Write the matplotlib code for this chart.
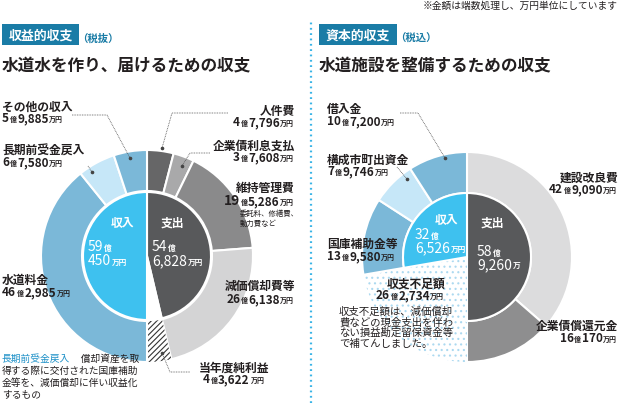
import matplotlib
matplotlib.use("Agg")
import matplotlib.pyplot as plt
from matplotlib.patches import Rectangle

plt.rcParams['font.family'] = ['Noto Sans CJK JP', 'DejaVu Sans']
plt.rcParams['hatch.linewidth'] = 0.8

# ---------------- data (万円) ----------------
left_income_labels = ['水道料金', '長期前受金戻入', 'その他の収入']
left_income_values = [462985, 67580, 59885]
left_expense_labels = ['人件費', '企業債利息支払', '維持管理費', '減価償却費等', '当年度純利益']
left_expense_values = [47796, 37608, 195286, 266138, 43622]
left_income_total = 590450
left_expense_total = 546828

right_income_labels = ['借入金', '構成市町出資金', '国庫補助金等', '収支不足額']
right_income_values = [107200, 79746, 139580, 262734]
right_expense_labels = ['建設改良費', '企業債償還元金']
right_expense_values = [429090, 160170]
right_income_total = 326526
right_expense_total = 589260

# ---------------- colours ----------------
MID_BLUE = '#7bb8d8'
LIGHT_BLUE = '#c6e7f8'
BRIGHT_BLUE = '#3ec1ef'
DARK = '#58595b'
TEAL = '#1a7ca6'
TXT = '#231f20'

fig = plt.figure(figsize=(6.2, 4.03), dpi=100)
ax = fig.add_axes([0, 0, 1, 1])
ax.set_xlim(0, 620)
ax.set_ylim(0, 403)
ax.set_aspect('equal')
ax.axis('off')


def Y(y):
    return 403 - y


renderer = fig.canvas.get_renderer()


def parts(x, y, items, ha='left', gap=0.6):
    objs = []
    for s, size, kw in items:
        t = ax.text(0, Y(y), s, fontsize=size, va='baseline', ha='left', **kw)
        objs.append(t)
    widths = [t.get_window_extent(renderer).width + gap for t in objs]
    total = sum(widths)
    start = x if ha == 'left' else (x - total if ha == 'right' else x - total / 2)
    for t, w in zip(objs, widths):
        t.set_x(start)
        start += w


def amount(x, y, v, ha='left', big=8.5, small=5, color=TXT, unit='万円', big1=None, weight='bold'):
    oku, man = divmod(v, 10000)
    b1 = big1 if big1 else big
    kw = dict(color=color, fontweight=weight)
    parts(x, y, [(f'{oku}', b1, kw), ('億', small, kw), (f'{man:,}', big, kw),
                 (unit, small, kw)], ha=ha)


# ---------------- left donut ----------------
LC = (147, Y(256))
wp = dict(width=41, edgecolor='white', linewidth=1.5)
outer_vals = left_expense_values + left_income_values
outer_cols = ['#666667', '#a9a9aa', '#8a8a8b', '#d4d4d5', 'white', MID_BLUE, LIGHT_BLUE, MID_BLUE]
w_out, _ = ax.pie(outer_vals, colors=outer_cols, center=LC, radius=106, startangle=90,
                  counterclock=False, wedgeprops=wp, frame=True)
h = w_out[4]
h.set_hatch('//////')
h.set_edgecolor('#333333')
h.set_linewidth(0)
inner_vals = [left_expense_total, left_income_total - left_expense_total, left_income_total]
w_in, _ = ax.pie(inner_vals, colors=[DARK, 'white', BRIGHT_BLUE], center=LC, radius=64,
                 startangle=90, counterclock=False,
                 wedgeprops=dict(edgecolor='white', linewidth=1.5), frame=True)

# ---------------- right donut ----------------
RC = (467, Y(257))
r_outer_vals = right_expense_values + right_income_values[::-1]
r_outer_cols = ['#dcdcdd', '#8e8e8f', 'white', MID_BLUE, LIGHT_BLUE, MID_BLUE]
rw_out, _ = ax.pie(r_outer_vals, colors=r_outer_cols, center=RC, radius=105, startangle=90,
                   counterclock=False, wedgeprops=dict(width=41, edgecolor='white', linewidth=1.5),
                   frame=True)
r_inner_vals = [right_expense_total, right_income_values[3], right_income_total]
rw_in, _ = ax.pie(r_inner_vals, colors=[DARK, 'white', BRIGHT_BLUE], center=RC, radius=64,
                  startangle=90, counterclock=False,
                  wedgeprops=dict(edgecolor='white', linewidth=1.5), frame=True)
for w in (rw_out[2], rw_in[1]):
    w.set_hatch('...')
    w.set_edgecolor('#acd9f0')
    w.set_linewidth(0)

ax.set_xlim(0, 620)
ax.set_ylim(0, 403)
ax.axis('off')

# ---------------- divider & headers ----------------
ax.plot([311, 311], [0, Y(20)], color='#3ab4e6', lw=1.6, linestyle=(0, (0.8, 1.6)))
ax.text(618, Y(9), '※金額は端数処理し、万円単位にしています', fontsize=7, ha='right',
        va='baseline', color=TXT)

for bx, bw, title, tax, sub in [(2, 77, '収益的収支', '（税抜）', '水道水を作り、届けるための収支'),
                                (319, 78, '資本的収支', '（税込）', '水道施設を整備するための収支')]:
    ax.add_patch(Rectangle((bx, Y(45)), bw, 21, color=TEAL, lw=0))
    ax.text(bx + bw / 2, Y(40), title, fontsize=9.3, fontweight='bold', color='white',
            ha='center', va='baseline')
    ax.text(bx + bw - 2, Y(42), tax, fontsize=7.5, fontweight='bold', color=TEAL,
            ha='left', va='baseline')
    ax.text(bx, Y(71), sub, fontsize=12, fontweight='bold', color=TXT, ha='left', va='baseline')

# ---------------- left labels ----------------
LB = 8.5
ax.text(2, Y(111), left_income_labels[2], fontsize=LB, fontweight='bold', color=TXT, va='baseline')
amount(2, 122, left_income_values[2])
ax.text(2, Y(155), left_income_labels[1], fontsize=LB, fontweight='bold', color=TXT, va='baseline')
amount(2, 166, left_income_values[1])
ax.text(2, Y(284), left_income_labels[0], fontsize=LB, fontweight='bold', color=TXT, va='baseline')
amount(2, 296, left_income_values[0])

ax.text(295, Y(115), left_expense_labels[0], fontsize=LB, fontweight='bold', color=TXT,
        ha='right', va='baseline')
amount(295, 126, left_expense_values[0], ha='right')
ax.text(295, Y(150), left_expense_labels[1], fontsize=LB, fontweight='bold', color=TXT,
        ha='right', va='baseline')
amount(295, 161, left_expense_values[1], ha='right')
ax.text(295, Y(192), left_expense_labels[2], fontsize=LB, fontweight='bold', color=TXT,
        ha='right', va='baseline')
amount(295, 205, left_expense_values[2], ha='right', big1=10)
ax.text(240, Y(216), '委託料、修繕費、', fontsize=5.3, color=TXT, va='baseline')
ax.text(240, Y(226), '動力費など', fontsize=5.3, color=TXT, va='baseline')
ax.text(295, Y(290), left_expense_labels[3], fontsize=LB, fontweight='bold', color=TXT,
        ha='right', va='baseline')
amount(295, 303, left_expense_values[3], ha='right')
ax.text(199, Y(372), left_expense_labels[4], fontsize=LB, fontweight='bold', color=TXT,
        va='baseline')
amount(203, 383, left_expense_values[4])

# centre left
WB = dict(color='white', fontweight='bold')
ax.text(122, Y(227), '収入', fontsize=8.5, fontweight='bold', color='white', ha='center',
        va='baseline')
parts(88, 251, [(f'{left_income_total // 10000}', 10, dict(color='white')), ('億', 5.5, WB)])
parts(88, 265, [(f'{left_income_total % 10000:,}', 10, dict(color='white')), ('万円', 5.5, WB)])
ax.text(172, Y(227), '支出', fontsize=8.5, fontweight='bold', color='white', ha='center',
        va='baseline')
parts(152, 251, [(f'{left_expense_total // 10000}', 10, dict(color='white')), ('億', 5.5, WB)])
parts(152, 265, [(f'{left_expense_total % 10000:,}', 10, dict(color='white')), ('万円', 5.5, WB)])

# note
parts(2, 362, [('長期前受金戻入', 7, dict(color='#1a8fc7')), ('　償却資産を取', 7, dict(color=TXT))])
for i, line in enumerate(['得する際に交付された国庫補助', '金等を、減価償却に伴い収益化', 'するもの']):
    ax.text(2, Y(374 + 11.7 * i), line, fontsize=7, color=TXT, va='baseline')

# ---------------- right labels ----------------
ax.text(327, Y(113), right_income_labels[0], fontsize=LB, fontweight='bold', color=TXT, va='baseline')
amount(327, 125, right_income_values[0])
ax.text(327, Y(164), right_income_labels[1], fontsize=LB, fontweight='bold', color=TXT, va='baseline')
amount(327, 175, right_income_values[1])
ax.text(327, Y(248), right_income_labels[2], fontsize=LB, fontweight='bold', color=TXT, va='baseline')
amount(327, 260, right_income_values[2])
ax.text(445, Y(288), right_income_labels[3], fontsize=LB, fontweight='bold', color=TXT,
        ha='right', va='baseline')
amount(445, 299, right_income_values[3], ha='right')
for i, line in enumerate(['収支不足額は、減価償却', '費などの現金支出を伴わ', 'ない損益勘定留保資金等',
                          'で補てんしました。']):
    ax.text(339, Y(315 + 10.5 * i), line, fontsize=7.5, color=TXT, va='baseline')

ax.text(618, Y(182), right_expense_labels[0], fontsize=LB, fontweight='bold', color=TXT,
        ha='right', va='baseline')
amount(618, 193, right_expense_values[0], ha='right')
ax.text(618, Y(330), right_expense_labels[1], fontsize=LB, fontweight='bold', color=TXT,
        ha='right', va='baseline')
amount(618, 342, right_expense_values[1], ha='right')

# centre right
ax.text(446, Y(224), '収入', fontsize=8.5, fontweight='bold', color='white', ha='center',
        va='baseline')
parts(415, 239, [(f'{right_income_total // 10000}', 10, dict(color='white')), ('億', 5.5, WB)])
parts(415, 252, [(f'{right_income_total % 10000:,}', 10, dict(color='white')), ('万円', 5.5, WB)])
ax.text(492, Y(227), '支出', fontsize=8.5, fontweight='bold', color='white', ha='center',
        va='baseline')
parts(477, 256, [(f'{right_expense_total // 10000}', 10, dict(color='white')), ('億', 5.5, WB)])
parts(477, 269, [(f'{right_expense_total % 10000:,}', 10, dict(color='white')), ('万', 5.5, WB)])

# ---------------- leader lines ----------------
LS = dict(color='#555555', lw=0.6, linestyle=(0, (1, 1)))
leaders = [
    [(72, 115), (107, 115), (130, 158)],
    [(88, 166), (92, 172)],
    [(228, 113), (172, 113), (162, 148)],
    [(210, 153), (190, 153), (182, 166)],
    [(162, 353), (170, 372), (190, 372)],
    [(400, 113), (418, 113), (445, 158)],
    [(397, 167), (407, 179)],
]
dots = [(130, 158), (92, 172), (162, 148), (182, 166), (162, 353), (445, 158), (407, 179)]
for pts in leaders:
    ax.plot([p[0] for p in pts], [Y(p[1]) for p in pts], **LS)
ax.plot([d[0] for d in dots], [Y(d[1]) for d in dots], 'o', color='#444444', ms=1.6, lw=0)

fig.savefig('out.png', dpi=100)
